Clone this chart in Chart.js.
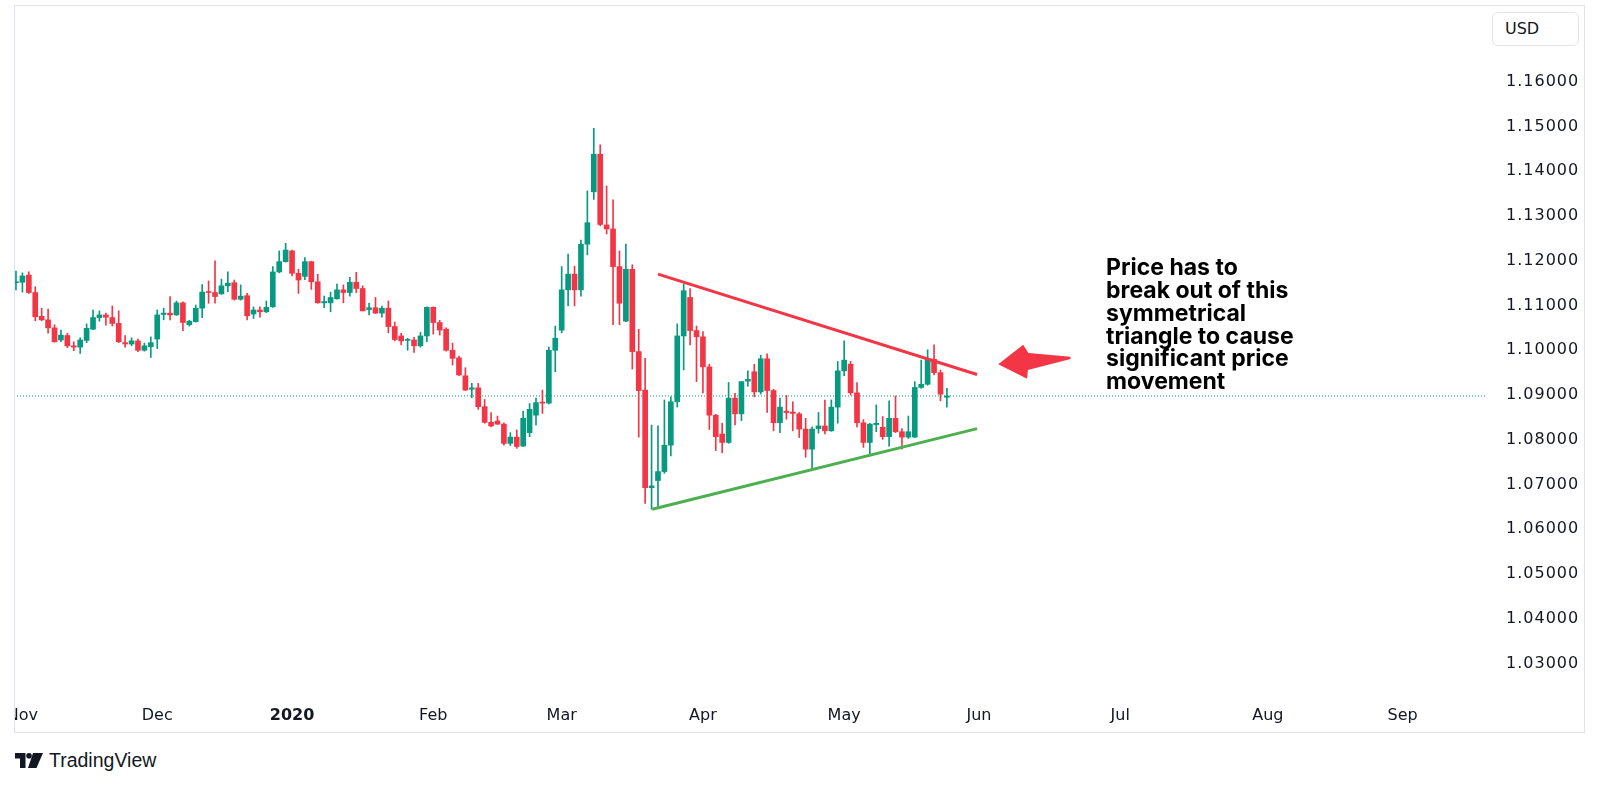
<!DOCTYPE html>
<html lang="en">
<head>
<meta charset="UTF-8">
<title>EUR/USD daily - symmetrical triangle</title>
<script src="https://cdn.jsdelivr.net/npm/chart.js@4.4.1/dist/chart.umd.min.js"></script>
<style>
  body {
    margin: 0;
    width: 1600px;
    height: 785px;
    background: #fff;
    position: relative;
    overflow: hidden;
    font-family: 'DejaVu Sans', sans-serif;
  }
  .chart-box { position: absolute; left: 14px; top: 5px; width: 1571px; height: 728px; }
  .frame {
    position: absolute; left: 14px; top: 5px; width: 1571px; height: 728px;
    box-sizing: border-box; border: 1px solid #e0e3eb; pointer-events: none;
  }
  .currency {
    position: absolute; left: 1492px; top: 12px; width: 87px; height: 34px;
    box-sizing: border-box; border: 1px solid #e0e3eb; border-radius: 6px;
    background: #fff; color: #131722; font-size: 16px; line-height: 32px; padding-left: 12px;
  }
  .brand {
    position: absolute; left: 15px; top: 749px; display: flex; align-items: center; gap: 6px;
    color: #131722; font-family: 'Liberation Sans', Arial, sans-serif; font-size: 19.5px;
  }
</style>
</head>
<body>
<div class="chart-box"><canvas id="fx"></canvas></div>
<div class="frame"></div>
<div class="currency">USD</div>
<div class="brand">
  <svg width="28" height="15" viewBox="0 0 28 15">
    <path d="M0 0H10.5V15H5V5.5H0Z" fill="#131722"/>
    <circle cx="14" cy="2.8" r="2.8" fill="#131722"/>
    <path d="M18 0H28L21.5 15H13Z" fill="#131722"/>
  </svg>
  <span>TradingView</span>
</div>

<script>
// daily EUR/USD bars, 31 Oct 2019 .. 25 May 2020
const opens = [
  1.1151, 1.1152, 1.1168, 1.1129, 1.1076, 1.1068, 1.1050, 1.1023, 1.1033, 1.1010,
  1.1007, 1.1022, 1.1047, 1.1073, 1.1079, 1.1073, 1.1060, 1.1017, 1.1014, 1.1021,
  1.1000, 1.1008, 1.1025, 1.1080, 1.1083, 1.1079, 1.1106, 1.1057, 1.1064, 1.1094,
  1.1131, 1.1129, 1.1126, 1.1144, 1.1151, 1.1114, 1.1122, 1.1081, 1.1090, 1.1086,
  1.1097, 1.1175, 1.1198, 1.1222, 1.1172, 1.1165, 1.1198, 1.1153, 1.1106, 1.1106,
  1.1115, 1.1135, 1.1129, 1.1152, 1.1138, 1.1091, 1.1095, 1.1083, 1.1094, 1.1053,
  1.1032, 1.1022, 1.1023, 1.1010, 1.1032, 1.1096, 1.1062, 1.1047, 1.1000, 1.0983,
  1.0943, 1.0913, 1.0916, 1.0874, 1.0839, 1.0842, 1.0835, 1.0792, 1.0806, 1.0786,
  1.0816, 1.0855, 1.0884, 1.0882, 1.1000, 1.1045, 1.1135, 1.1170, 1.1135, 1.1237,
  1.1354, 1.1438, 1.1280, 1.1271, 1.1187, 1.1065, 1.1181, 1.0997, 1.0911, 1.0693,
  1.0709, 1.0729, 1.0788, 1.0885, 1.1032, 1.1118, 1.1044, 1.1030, 1.0963, 1.0855,
  1.0813, 1.0794, 1.0893, 1.0858, 1.0931, 1.0952, 1.0907, 1.0981, 1.0910, 1.0838,
  1.0864, 1.0862, 1.0858, 1.0824, 1.0779, 1.0825, 1.0831, 1.0820, 1.0873, 1.0954,
  1.0969, 1.0905, 1.0838, 1.0794, 1.0834, 1.0828, 1.0807, 1.0848, 1.0818, 1.0806,
  1.0806, 1.0917, 1.0924, 1.0980, 1.0950, 1.0895
];
const highs = [
  1.1177, 1.1173, 1.1175, 1.1142, 1.1094, 1.1092, 1.1057, 1.1045, 1.1038, 1.1019,
  1.1028, 1.1059, 1.1090, 1.1088, 1.1083, 1.1099, 1.1088, 1.1033, 1.1028, 1.1025,
  1.1016, 1.1030, 1.1090, 1.1094, 1.1120, 1.1110, 1.1108, 1.1067, 1.1101, 1.1147,
  1.1155, 1.1200, 1.1159, 1.1175, 1.1157, 1.1146, 1.1127, 1.1097, 1.1097, 1.1110,
  1.1187, 1.1222, 1.1239, 1.1224, 1.1181, 1.1207, 1.1199, 1.1170, 1.1121, 1.1130,
  1.1148, 1.1146, 1.1163, 1.1174, 1.1144, 1.1105, 1.1118, 1.1099, 1.1110, 1.1063,
  1.1038, 1.1027, 1.1029, 1.1040, 1.1097, 1.1097, 1.1067, 1.1050, 1.1016, 1.0987,
  1.0961, 1.0926, 1.0926, 1.0890, 1.0861, 1.0853, 1.0838, 1.0816, 1.0822, 1.0864,
  1.0881, 1.0893, 1.0911, 1.1007, 1.1054, 1.1187, 1.1215, 1.1188, 1.1246, 1.1356,
  1.1496, 1.1459, 1.1367, 1.1336, 1.1222, 1.1237, 1.1191, 1.1047, 1.0982, 1.0833,
  1.0831, 1.0889, 1.0896, 1.1059, 1.1148, 1.1138, 1.1054, 1.1042, 1.0969, 1.0857,
  1.0837, 1.0928, 1.0904, 1.0930, 1.0954, 1.0969, 1.0989, 1.0992, 1.0913, 1.0893,
  1.0899, 1.0885, 1.0861, 1.0848, 1.0829, 1.0861, 1.0889, 1.0889, 1.0975, 1.1021,
  1.0975, 1.0928, 1.0845, 1.0837, 1.0878, 1.0852, 1.0887, 1.0898, 1.0825, 1.0853,
  1.0930, 1.0978, 1.1001, 1.1012, 1.0956, 1.0915
];
const lows = [
  1.1135, 1.1130, 1.1127, 1.1066, 1.1066, 1.1038, 1.1018, 1.1019, 1.1006, 1.0999,
  1.0993, 1.1017, 1.1046, 1.1065, 1.1056, 1.1054, 1.1017, 1.1007, 1.1010, 1.0997,
  1.0998, 1.0984, 1.1004, 1.1068, 1.1068, 1.1078, 1.1044, 1.1054, 1.1063, 1.1073,
  1.1105, 1.1105, 1.1125, 1.1131, 1.1112, 1.1112, 1.1068, 1.1071, 1.1074, 1.1084,
  1.1096, 1.1173, 1.1197, 1.1166, 1.1127, 1.1158, 1.1136, 1.1105, 1.1095, 1.1086,
  1.1114, 1.1106, 1.1121, 1.1129, 1.1088, 1.1079, 1.1082, 1.1074, 1.1039, 1.1021,
  1.1012, 1.1000, 1.0995, 1.1007, 1.1019, 1.1036, 1.1034, 1.0998, 1.0967, 1.0943,
  1.0910, 1.0894, 1.0868, 1.0837, 1.0829, 1.0834, 1.0788, 1.0787, 1.0781, 1.0785,
  1.0807, 1.0833, 1.0859, 1.0880, 1.0952, 1.1039, 1.1099, 1.1099, 1.1121, 1.1213,
  1.1337, 1.1278, 1.1260, 1.1057, 1.1057, 1.1064, 1.0958, 1.0806, 1.0658, 1.0645,
  1.0647, 1.0725, 1.0764, 1.0873, 1.0956, 1.1012, 1.0930, 1.0905, 1.0823, 1.0776,
  1.0771, 1.0792, 1.0833, 1.0843, 1.0920, 1.0896, 1.0902, 1.0861, 1.0820, 1.0816,
  1.0846, 1.0820, 1.0805, 1.0761, 1.0733, 1.0815, 1.0813, 1.0819, 1.0837, 1.0943,
  1.0900, 1.0829, 1.0783, 1.0768, 1.0818, 1.0801, 1.0786, 1.0816, 1.0779, 1.0803,
  1.0805, 1.0915, 1.0922, 1.0945, 1.0887, 1.0873
];
const closes = [
  1.1153, 1.1166, 1.1129, 1.1075, 1.1068, 1.1050, 1.1019, 1.1034, 1.1010, 1.1007,
  1.1023, 1.1049, 1.1073, 1.1079, 1.1074, 1.1060, 1.1019, 1.1014, 1.1021, 1.1000,
  1.1010, 1.1017, 1.1079, 1.1083, 1.1079, 1.1106, 1.1062, 1.1065, 1.1094, 1.1130,
  1.1129, 1.1120, 1.1144, 1.1150, 1.1114, 1.1121, 1.1077, 1.1090, 1.1086, 1.1096,
  1.1175, 1.1198, 1.1224, 1.1172, 1.1157, 1.1198, 1.1153, 1.1106, 1.1109, 1.1118,
  1.1135, 1.1129, 1.1152, 1.1138, 1.1088, 1.1095, 1.1083, 1.1094, 1.1053, 1.1024,
  1.1021, 1.1024, 1.1010, 1.1032, 1.1096, 1.1062, 1.1045, 1.1000, 1.0982, 1.0945,
  1.0911, 1.0916, 1.0874, 1.0839, 1.0831, 1.0835, 1.0792, 1.0806, 1.0785, 1.0848,
  1.0868, 1.0883, 1.0882, 1.1000, 1.1027, 1.1135, 1.1170, 1.1135, 1.1237, 1.1285,
  1.1438, 1.1281, 1.1271, 1.1187, 1.1105, 1.1181, 1.0997, 1.0910, 1.0693, 1.0697,
  1.0729, 1.0788, 1.0885, 1.1032, 1.1133, 1.1044, 1.1030, 1.0963, 1.0855, 1.0807,
  1.0794, 1.0893, 1.0858, 1.0930, 1.0935, 1.0907, 1.0981, 1.0910, 1.0838, 1.0873,
  1.0861, 1.0859, 1.0824, 1.0779, 1.0824, 1.0831, 1.0820, 1.0873, 1.0954, 1.0978,
  1.0905, 1.0838, 1.0794, 1.0835, 1.0837, 1.0807, 1.0848, 1.0818, 1.0806, 1.0818,
  1.0917, 1.0924, 1.0980, 1.0950, 1.0902, 1.0898
];

// time axis: bar index of the first session of each month
const monthTickIdx = [1, 22, 43, 65, 85, 107, 129, 150, 172, 195, 216];
const monthTickLabels = ['Nov', 'Dec', '2020', 'Feb', 'Mar', 'Apr', 'May', 'Jun', 'Jul', 'Aug', 'Sep'];
const priceTicks = [1.03, 1.04, 1.05, 1.06, 1.07, 1.08, 1.09, 1.10, 1.11, 1.12, 1.13, 1.14, 1.15, 1.16];

// drawings: [bar index, price]
const resistanceLine = [[100, 1.1170], [149.7, 1.0946]];
const supportLine = [[99.1, 1.0645], [149.7, 1.0825]];
const arrowTail = [164.25, 1.0983];
const arrowTip = [153.0, 1.0969];
const noteAnchor = [169.8, 1.1183];
const noteLines = ['Price has to', 'break out of this', 'symmetrical', 'triangle to cause', 'significant price', 'movement'];

const X_MIN = -0.31, X_MAX = 228.82;
const Y_MIN = 1.0241, Y_MAX = 1.17714;
const UP = '#089981', DOWN = '#f23645';
const INK = '#131722';

const bars = closes.map((_, i) => i);
const candleColor = bars.map(i => closes[i] >= opens[i] ? UP : DOWN);
const lastPrice = closes[closes.length - 1];

Chart.defaults.font.family = "'DejaVu Sans', sans-serif";
Chart.defaults.color = INK;

// price scale labels get a bit of tracking, time labels don't
const tracking = {
  id: 'tracking',
  beforeDraw(chart) { chart.ctx.letterSpacing = '1px'; },
  afterDatasetsDraw(chart) { chart.ctx.letterSpacing = '0px'; }
};

const drawings = {
  id: 'drawings',
  afterDraw(chart) {
    const { ctx, scales: { x, y } } = chart;
    const toPx = p => [x.getPixelForValue(p[0]), y.getPixelForValue(p[1])];

    const [tx, ty] = toPx(arrowTip);
    const [sx, sy] = toPx(arrowTail);
    const len = Math.hypot(tx - sx, ty - sy);
    const ux = (tx - sx) / len, uy = (ty - sy) / len;
    const nx = uy, ny = -ux;
    const at = (along, side) => [tx - ux * along + nx * side, ty - uy * along + ny * side];
    const shape = [at(0, 0), at(27.5, 17), at(29, 8.5), at(len, 1.2), at(len, -1.2), at(31, -8.5), at(26.5, -17.2)];

    ctx.save();
    ctx.fillStyle = DOWN;
    ctx.beginPath();
    shape.forEach(([a, b], i) => i ? ctx.lineTo(a, b) : ctx.moveTo(a, b));
    ctx.closePath();
    ctx.fill();

    const [ax, ay] = toPx(noteAnchor);
    ctx.fillStyle = '#000';
    ctx.font = '700 23px Inter, sans-serif';
    ctx.textBaseline = 'middle';
    ctx.textAlign = 'left';
    noteLines.forEach((t, i) => ctx.fillText(t, ax, ay + i * 22.8));
    ctx.restore();
  }
};

new Chart(document.getElementById('fx'), {
  type: 'bar',
  data: {
    datasets: [
      {
        type: 'line',
        data: resistanceLine.map(([x, y]) => ({ x, y })),
        borderColor: DOWN, borderWidth: 3, pointRadius: 0, order: 0
      },
      {
        type: 'line',
        data: supportLine.map(([x, y]) => ({ x, y })),
        borderColor: '#4caf50', borderWidth: 3, pointRadius: 0, order: 0
      },
      {
        data: bars.map(i => ({ x: i, y: [opens[i], closes[i]] })),
        backgroundColor: candleColor,
        barThickness: 5, minBarLength: 1, grouped: false, order: 1
      },
      {
        data: bars.map(i => ({ x: i, y: [lows[i], highs[i]] })),
        backgroundColor: candleColor,
        barThickness: 1, grouped: false, order: 2
      },
      {
        type: 'line',
        data: [{ x: X_MIN, y: lastPrice }, { x: X_MAX, y: lastPrice }],
        borderColor: UP, borderWidth: 1, borderDash: [1, 2], pointRadius: 0, order: 3
      }
    ]
  },
  options: {
    responsive: true,
    maintainAspectRatio: false,
    animation: false,
    events: [],
    layout: { padding: 0 },
    plugins: { legend: { display: false }, tooltip: { enabled: false } },
    scales: {
      x: {
        type: 'linear',
        position: 'bottom',
        min: X_MIN,
        max: X_MAX,
        offset: false,
        grid: { display: false },
        border: { display: false },
        ticks: {
          z: 1,
          autoSkip: false,
          maxRotation: 0,
          padding: 8,
          color: INK,
          font: ctx => ({
            size: 16,
            weight: ctx.tick && /^\d{4}$/.test(ctx.tick.label) ? 'bold' : 'normal'
          }),
          callback: v => {
            const k = monthTickIdx.indexOf(v);
            return k >= 0 ? monthTickLabels[k] : '';
          }
        },
        afterBuildTicks: s => { s.ticks = monthTickIdx.map(v => ({ value: v })); },
        afterFit: s => { s.height = 43; s.paddingLeft = 0; s.paddingRight = 0; }
      },
      y: {
        type: 'linear',
        position: 'right',
        min: Y_MIN,
        max: Y_MAX,
        grid: { display: false },
        border: { display: false },
        ticks: {
          padding: 13,
          color: INK,
          font: { size: 16 },
          callback: v => v.toFixed(5)
        },
        afterBuildTicks: s => { s.ticks = priceTicks.map(v => ({ value: v })); },
        afterFit: s => { s.width = 100; s.paddingTop = 0; s.paddingBottom = 0; }
      }
    }
  },
  plugins: [tracking, drawings]
});
</script>
</body>
</html>
